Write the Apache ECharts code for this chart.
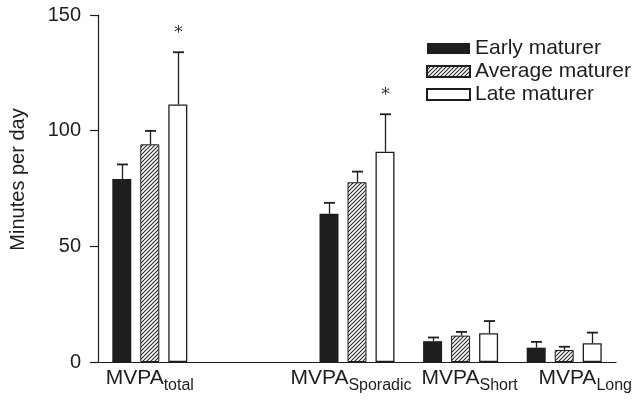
<!DOCTYPE html>
<html>
<head>
<meta charset="utf-8">
<script src="https://cdn.jsdelivr.net/npm/echarts@6/dist/echarts.min.js"></script>
<style>
  html, body { margin: 0; padding: 0; background: #fff; }
  #chart { width: 635px; height: 400px; }
</style>
</head>
<body>
<div id="chart"></div>
<script>
// ---- data ----
const categories = ['total', '', 'Sporadic', 'Short', 'Long'];
const seriesNames = ['Early maturer', 'Average maturer', 'Late maturer'];
const earlyMean = [79.1, null, 64.1, 9.0, 6.2];
const earlySD = [6.3, null, 4.7, 1.6, 2.5];
const averageMean = [94.1, null, 77.7, 11.4, 5.2];
const averageSD = [5.8, null, 4.6, 1.6, 1.4];
const lateMean = [111.3, null, 90.9, 12.4, 8.1];
const lateSD = [22.6, null, 16.2, 5.3, 4.6];
const lateSignificant = [true, false, true, false, false];
const yTicks = [0, 50, 100, 150];

// ---- style ----
const FONT = "'Liberation Sans', Arial, Helvetica, sans-serif";
const INK = '#1e1e1e';
const BAR_W = 19;
const BAR_STEP = 28;
const LABEL_SHIFT = [0, 0, -6, 9, 21]; // horizontal label nudges (px)

function hatchPattern() {
  const c = document.createElement('canvas');
  c.width = 4; c.height = 4;
  const g = c.getContext('2d');
  g.fillStyle = '#ffffff';
  g.fillRect(0, 0, 4, 4);
  g.strokeStyle = '#2a2a2a';
  g.lineWidth = 1.1;
  g.beginPath();
  g.moveTo(-1, 5); g.lineTo(5, -1);
  g.moveTo(-1, 1); g.lineTo(1, -1);
  g.moveTo(3, 5); g.lineTo(5, 3);
  g.stroke();
  return c;
}

const means = [earlyMean, averageMean, lateMean];
const sds = [earlySD, averageSD, lateSD];
const sigs = [null, null, lateSignificant];

const barStyles = [
  { color: INK, borderColor: INK, borderWidth: 0 },
  { color: { image: hatchPattern(), repeat: 'repeat' }, borderColor: INK, borderWidth: 1 },
  { color: '#ffffff', borderColor: INK, borderWidth: 1.3 }
];

const series = [];
means.forEach((m, k) => {
  series.push({
    name: seriesNames[k],
    type: 'bar',
    data: m.map(v => v === null ? '-' : v),
    barWidth: BAR_W,
    barGap: ((BAR_STEP - BAR_W) / BAR_W * 100) + '%',
    itemStyle: barStyles[k],
    emphasis: { disabled: true },
    animation: false,
    z: 2
  });
});

means.forEach((m, k) => {
  const data = [];
  m.forEach((v, i) => {
    if (v !== null) data.push([i, v, sds[k][i], sigs[k] && sigs[k][i] ? 1 : 0]);
  });
  series.push({
    type: 'custom',
    data: data,
    z: 3,
    animation: false,
    silent: true,
    renderItem: function (params, api) {
      const i = api.value(0), mean = api.value(1), sd = api.value(2), sig = api.value(3);
      const base = api.coord([i, mean]);
      const top = api.coord([i, mean + sd]);
      const x = Math.round(base[0] + (k - 1) * BAR_STEP) + 0.5;
      const children = [
        { type: 'line', shape: { x1: x, y1: base[1], x2: x, y2: top[1] }, style: { stroke: INK, lineWidth: 1.3 } },
        { type: 'line', shape: { x1: x - 5.5, y1: top[1], x2: x + 5.5, y2: top[1] }, style: { stroke: INK, lineWidth: 1.8 } }
      ];
      if (sig) {
        children.push({
          type: 'text',
          style: { x: x, y: top[1] - 19, text: '*', fill: '#333', font: "17px 'DejaVu Serif', 'Liberation Serif', serif", align: 'center', verticalAlign: 'middle' }
        });
      }
      return { type: 'group', children: children };
    }
  });
});

// rich styles for x labels with per-label nudges
const rich = {};
categories.forEach((c, i) => {
  const d = LABEL_SHIFT[i];
  rich['m' + i] = { fontSize: 21, color: INK, fontFamily: FONT, lineHeight: 23, verticalAlign: 'top', padding: [0, 0, 0, d > 0 ? 2 * d : 0] };
  rich['s' + i] = { fontSize: 16, color: INK, fontFamily: FONT, lineHeight: 23, verticalAlign: 'top', padding: [10, d < 0 ? -2 * d : 0, 0, 0] };
});

const chart = echarts.init(document.getElementById('chart'), null, { renderer: 'canvas' });
chart.setOption({
  backgroundColor: '#ffffff',
  animation: false,
  textStyle: { fontFamily: FONT },
  grid: { left: 97, right: 19, top: 15, bottom: 38, containLabel: false },
  legend: {
    data: seriesNames.map(n => ({ name: n, icon: 'rect' })),
    orient: 'vertical',
    left: 426,
    top: 38,
    itemWidth: 43,
    itemHeight: 11,
    itemGap: 2,
    padding: 0,
    selectedMode: false,
    textStyle: { fontSize: 21, color: INK, fontFamily: FONT, lineHeight: 21 }
  },
  xAxis: {
    type: 'category',
    data: categories,
    axisLine: { lineStyle: { color: INK, width: 1.2 } },
    axisTick: { show: false },
    axisLabel: {
      interval: 0,
      margin: 6,
      formatter: function (v, i) { return v ? '{m' + i + '|MVPA}{s' + i + '|' + v + '}' : ''; },
      rich: rich
    }
  },
  yAxis: {
    type: 'value',
    min: yTicks[0],
    max: yTicks[yTicks.length - 1],
    interval: yTicks[1] - yTicks[0],
    name: 'Minutes per day',
    nameLocation: 'middle',
    nameGap: 70,
    nameTextStyle: { fontSize: 20, color: INK, fontFamily: FONT, padding: [0, 0, 0, 18] },
    axisLine: { show: true, lineStyle: { color: INK, width: 1.2 } },
    axisTick: { show: true, inside: false, length: 8, lineStyle: { color: INK, width: 1.2 } },
    axisLabel: { fontSize: 20, color: INK, fontFamily: FONT, margin: 17 },
    splitLine: { show: false }
  },
  series: series
});
</script>
</body>
</html>
